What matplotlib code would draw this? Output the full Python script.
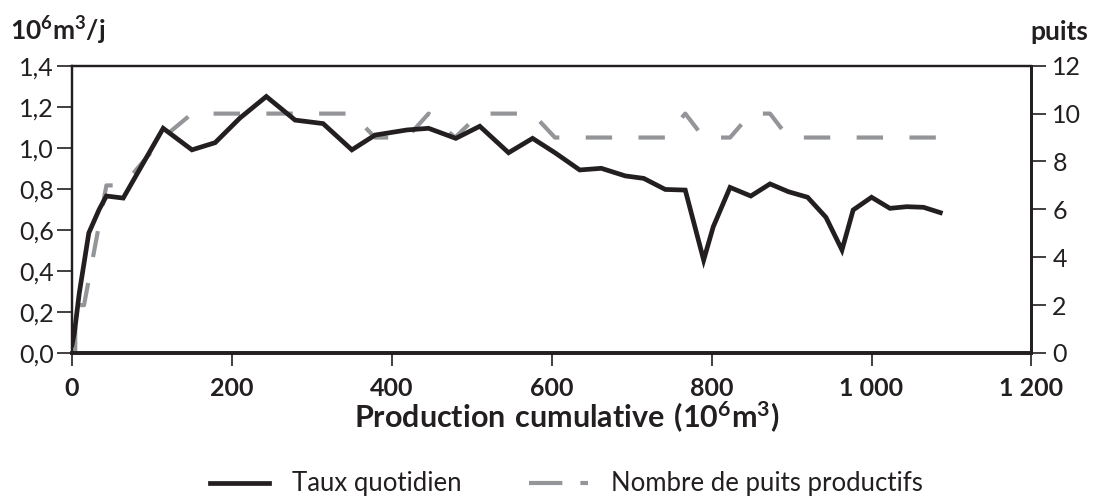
import matplotlib
matplotlib.use('Agg')
import matplotlib.pyplot as plt
from matplotlib.lines import Line2D

plt.rcParams['font.family'] = ['Lato', 'DejaVu Sans']
plt.rcParams['mathtext.fontset'] = 'custom'
plt.rcParams['mathtext.rm'] = 'Lato'
plt.rcParams['mathtext.bf'] = 'Lato:bold'
plt.rcParams['lines.scale_dashes'] = False

INK = '#231f20'
GREY = '#939598'

# Taux quotidien (10^6 m3/j) en fonction de la production cumulative
cumul_taux = [0, 3, 9, 21, 34, 43, 64, 114, 150, 179, 210, 243, 279, 314, 350,
              379, 419, 446, 480, 510, 546, 576, 604, 635, 662, 692, 715, 742,
              767, 790, 802, 823, 849, 873, 896, 920, 943, 963, 977, 1000,
              1023, 1044, 1065, 1086]
taux = [0.04, 0.10, 0.29, 0.585, 0.70, 0.765, 0.755, 1.095, 0.99, 1.025, 1.145,
        1.25, 1.135, 1.118, 0.99, 1.062, 1.087, 1.095, 1.046, 1.105, 0.976,
        1.046, 0.976, 0.892, 0.90, 0.863, 0.851, 0.797, 0.794, 0.453, 0.615,
        0.807, 0.765, 0.824, 0.786, 0.759, 0.661, 0.502, 0.697, 0.759, 0.705,
        0.713, 0.71, 0.684]

# Nombre de puits productifs
cumul_puits = [4, 4, 15, 43, 64, 114, 150, 350, 379, 419, 446, 479, 510, 576,
               604, 742, 767, 790, 823, 849, 873, 896, 1086]
puits = [0, 2, 2, 7, 7, 9, 10, 10, 9, 9, 10, 9, 10, 10, 9, 9, 10, 9, 9, 10,
         10, 9, 9]

x_ticks = [0, 200, 400, 600, 800, 1000, 1200]
x_labels = ['0', '200', '400', '600', '800', '1 000', '1 200']
y_ticks = [0.0, 0.2, 0.4, 0.6, 0.8, 1.0, 1.2, 1.4]
y_labels = ['0,0', '0,2', '0,4', '0,6', '0,8', '1,0', '1,2', '1,4']
y2_ticks = [0, 2, 4, 6, 8, 10, 12]

fig = plt.figure(figsize=(10.98, 4.99), dpi=100)
ax = fig.add_axes([0.0656, 0.2926, 0.8738, 0.5757])
ax2 = ax.twinx()

ax2.plot(cumul_puits, puits, color=GREY, lw=3.0, dashes=(19, 19),
         solid_capstyle='butt', dash_capstyle='butt', zorder=2)
ax.plot(cumul_taux, taux, color=INK, lw=3.4, solid_joinstyle='miter', zorder=3)
ax.set_zorder(ax2.get_zorder() + 1)
ax.patch.set_visible(False)

ax.set_xlim(0, 1200)
ax.set_ylim(0, 1.4)
ax2.set_ylim(0, 12)

ax.set_xticks(x_ticks)
ax.set_xticklabels(x_labels, fontweight='bold', fontsize=18)
ax.set_yticks(y_ticks)
ax.set_yticklabels(y_labels, fontsize=18)
ax2.set_yticks(y2_ticks)
ax2.set_yticklabels([str(v) for v in y2_ticks], fontsize=18)

ax.tick_params(axis='y', direction='out', length=11, width=1.2, pad=2,
               colors=INK)
ax.tick_params(axis='x', direction='out', length=9, width=1.2, pad=8,
               colors=INK)
ax2.tick_params(axis='y', direction='out', length=11, width=1.2, pad=4,
                colors=INK)

for a in (ax, ax2):
    for side, sp in a.spines.items():
        sp.set_color(INK)
        sp.set_linewidth(1.6)
    a.spines['bottom'].set_linewidth(2.6)
    a.spines['right'].set_linewidth(2.0)

fig.text(0.009, 1 - 40 / 499, r'$\mathbf{10^{6}m^{3}/j}$', fontsize=19,
         color=INK, ha='left', va='baseline')
fig.text(0.991, 1 - 40 / 499, 'puits', fontsize=19, fontweight='bold',
         color=INK, ha='right', va='baseline')
fig.text(0.516, 1 - 428 / 499, r'$\mathbf{Production\ cumulative\ (10^{6}m^{3})}$',
         fontsize=22, color=INK, ha='center', va='baseline')

handles = [Line2D([], [], color=INK, lw=3.4),
           Line2D([], [], color=GREY, lw=3.0, dashes=(24, 13),
                  dash_capstyle='butt')]
fig.legend(handles, ['Taux quotidien', 'Nombre de puits productifs'],
           loc='center', bbox_to_anchor=(0.516, 1 - 484 / 499), ncol=2,
           frameon=False, fontsize=18.5, handlelength=2.3, handletextpad=0.9,
           columnspacing=2.6, labelcolor=INK)

fig.savefig('out.png', dpi=100)
